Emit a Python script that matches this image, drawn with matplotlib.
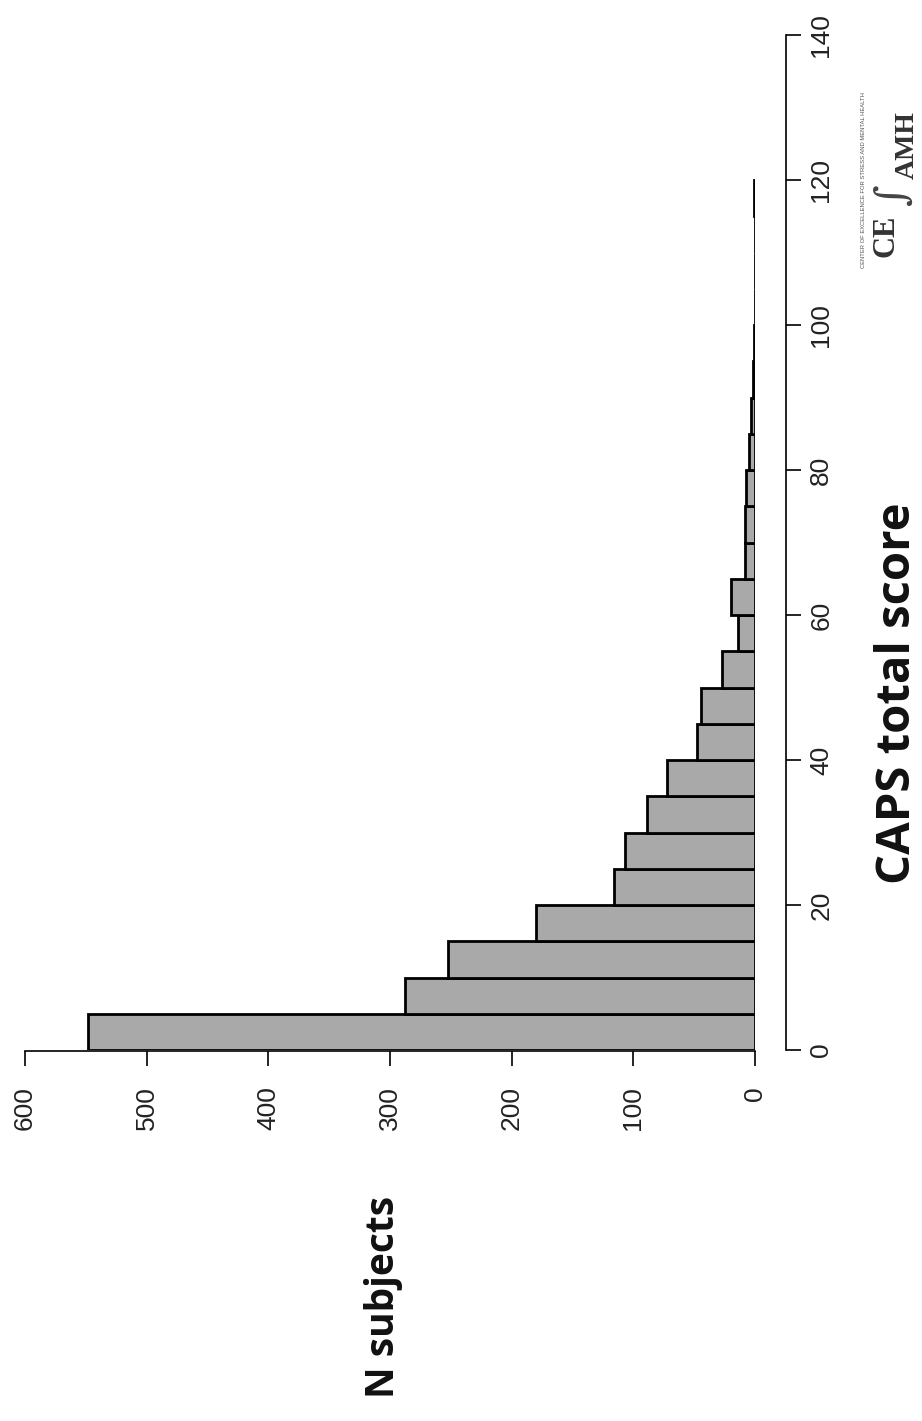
import matplotlib
matplotlib.use('Agg')
import matplotlib.pyplot as plt

# Histogram of CAPS total score (bins of 5), drawn rotated like the photographed slide
bin_edges = list(range(0, 120, 5))
counts = [548, 288, 252, 180, 116, 107, 89, 72, 48, 44, 27, 14,
          20, 8, 8, 7, 5, 3, 2, 1, 0, 0, 0, 1]
score_ticks = [0, 20, 40, 60, 80, 100, 120, 140]
n_ticks = [0, 100, 200, 300, 400, 500, 600]

W, H = 922, 1421
fig = plt.figure(figsize=(W / 100, H / 100), dpi=100)

# axes box in pixels: x 25..755 (600..0 subjects), y 35..1050 (140..0 score)
ax = fig.add_axes([25 / W, 1 - 1050 / H, (755 - 25) / W, (1050 - 35) / H])
ax.barh(bin_edges, counts, height=5, align='edge', color='#a9a9a9',
        edgecolor='black', linewidth=2.0)
ax.set_xlim(600, 0)
ax.set_ylim(0, 140)

for s in ['top', 'left']:
    ax.spines[s].set_visible(False)
ax.spines['right'].set_position(('outward', 22))
ax.spines['right'].set_bounds(0, 140)
ax.spines['bottom'].set_position(('outward', 1))
ax.spines['bottom'].set_bounds(600, 0)
for s in ['right', 'bottom']:
    ax.spines[s].set_linewidth(1.2)

ax.yaxis.tick_right()
ax.set_yticks(score_ticks)
ax.set_yticklabels([str(v) for v in score_ticks], rotation=90, va='center',
                   ha='left', fontsize=19, family='Liberation Sans', color='#222222')
ax.set_xticks(n_ticks)
ax.set_xticklabels([str(v) for v in n_ticks], rotation=90, ha='center',
                   va='top', fontsize=19, family='Liberation Sans', color='#222222')
ax.tick_params(axis='y', direction='out', length=11, width=1.2, pad=6)
ax.tick_params(axis='x', direction='out', length=11, width=1.2, pad=14)

# axis titles (rotated, as in the slide)
fig.text(383 / W, 1 - 1297 / H, 'N subjects', rotation=90, ha='center', va='center',
         fontsize=28, fontweight='bold', family='Open Sans', color='#111111')
fig.text(897 / W, 1 - 693 / H, 'CAPS total score', rotation=90, ha='center', va='center',
         fontsize=34, fontweight='bold', family='Open Sans', color='#111111')

# logo remnant at the right edge
fig.text(863 / W, 1 - 180 / H, 'CENTER OF EXCELLENCE FOR STRESS AND MENTAL HEALTH',
         rotation=90, ha='center', va='center', fontsize=4.2,
         family='Liberation Sans', color='#555555')
fig.text(886 / W, 1 - 236 / H, 'CE', rotation=90, ha='center', va='center',
         fontsize=22, fontweight='bold', family='Liberation Serif', color='#333333')
fig.text(893 / W, 1 - 195 / H, '\u222b', rotation=90, ha='center', va='center',
         fontsize=30, family='DejaVu Serif', color='#444444')
fig.text(907 / W, 1 - 145 / H, 'AMH', rotation=90, ha='center', va='center',
         fontsize=20, fontweight='bold', family='Liberation Serif', color='#333333')

fig.savefig('out.png', dpi=100)
